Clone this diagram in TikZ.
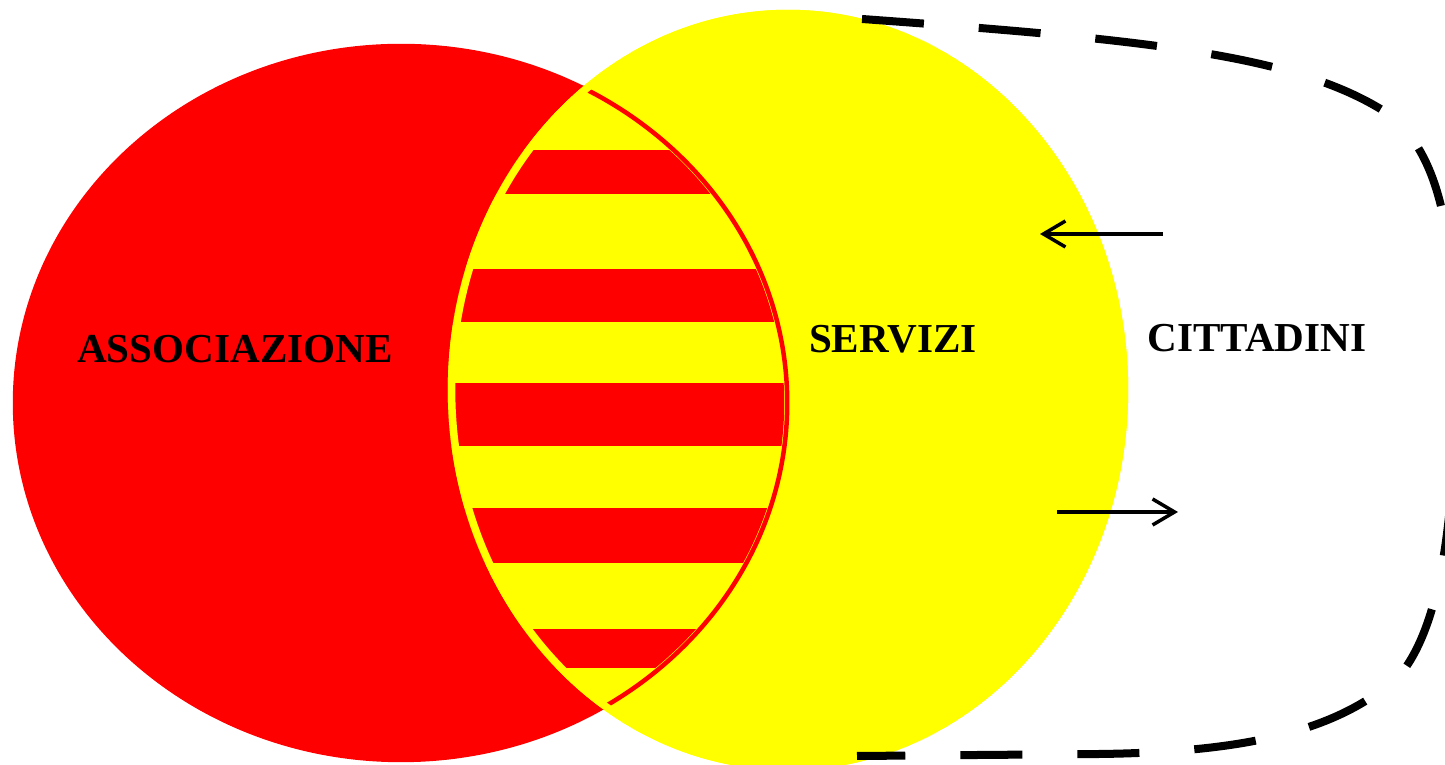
\documentclass[tikz,border=0pt]{standalone}
\usepackage{fontspec}
\setmainfont{Liberation Serif}
\usetikzlibrary{arrows.meta}
\definecolor{assocred}{RGB}{255,0,0}
\definecolor{servyellow}{RGB}{255,255,0}

\begin{document}
\begin{tikzpicture}[x=0.01cm, y=-0.01cm,
  areatext/.style={font=\bfseries\fontsize{11.7}{14}\selectfont, anchor=base, inner sep=0pt},
  flow/.style={line width=0.035cm, -{Straight Barb[length=0.22cm, width=0.26cm]}}]
  \useasboundingbox (0,0) rectangle (1445,765);
  \clip (0,0) rectangle (1445,765);
  \fill[white] (0,0) rectangle (1445,765);
  \fill[assocred] (401,403) ellipse [x radius=3.88cm, y radius=3.59cm];
  \fill[servyellow] (788,390) ellipse [x radius=3.40cm, y radius=3.80cm];
  \begin{scope}
    \clip (401,403) ellipse [x radius=3.83cm, y radius=3.54cm];
    \clip (788,390) ellipse [x radius=3.40cm, y radius=3.80cm];
    \foreach \ytop/\ybot in {150/194, 269/322, 383/446, 508/563, 629/668}
      \fill[assocred] (430,\ytop) rectangle (800,\ybot);
  \end{scope}
  \begin{scope}
    \clip (788,390) ellipse [x radius=3.40cm, y radius=3.80cm];
    \draw[assocred, line width=0.045cm] (401,403) ellipse [x radius=3.86cm, y radius=3.57cm];
    \draw[servyellow, line width=0.15cm] (788,390) ellipse [x radius=3.40cm, y radius=3.80cm];
  \end{scope}
  \draw[black, line width=0.08cm, dash pattern=on 0.62cm off 0.55cm]
    (862,19) .. controls (1150,40) and (1300,55) .. (1390,115)
    .. controls (1445,160) and (1455,250) .. (1455,380)
    .. controls (1455,500) and (1445,620) .. (1400,675)
    .. controls (1340,730) and (1250,752) .. (1100,754) -- (857,756);
  \node[areatext] (assoc) at (235,363) {ASSOCIAZIONE};
  \node[areatext] (servizi) at (893,353) {SERVIZI};
  \node[areatext] (cittadini) at (1257,352) {CITTADINI};
  \coordinate (cittIn) at (1163,234);
  \coordinate (servIn) at (1040,234);
  \coordinate (servOut) at (1057,512);
  \coordinate (cittOut) at (1178,512);
  \draw[flow] (cittIn) -- (servIn);
  \draw[flow] (servOut) -- (cittOut);
\end{tikzpicture}
\end{document}
